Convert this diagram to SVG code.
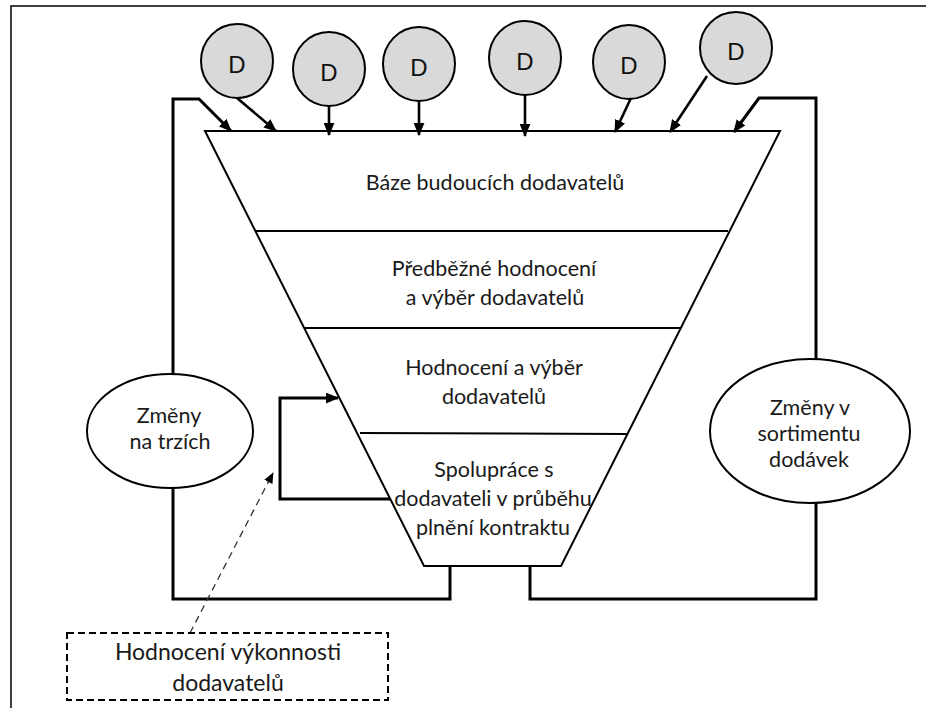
<svg xmlns="http://www.w3.org/2000/svg" width="931" height="708" viewBox="0 0 931 708">
<style>
.t{font-family:Lato,"Open Sans","DejaVu Sans",sans-serif;fill:#1a1a1a;text-anchor:middle;font-size:21.5px}
.d{font-family:"Liberation Sans Narrow","Liberation Sans",Arial,sans-serif;fill:#111;text-anchor:middle;font-size:24px}
.circ{fill:#d9d9d9;stroke:#000;stroke-width:2}
.ell{fill:#fff;stroke:#000;stroke-width:2}
.ln{fill:none;stroke:#000;stroke-width:3}
.ar{fill:none;stroke:#000;stroke-width:2.6}
.sep{stroke:#000;stroke-width:2}
</style>
<defs>
<marker id="ah" viewBox="0 0 12 10" markerWidth="13" markerHeight="11" refX="11" refY="5" orient="auto" markerUnits="userSpaceOnUse">
<path d="M0,0 L12,5 L0,10 z" fill="#000"/>
</marker>
<marker id="ahs" viewBox="0 0 12 10" markerWidth="11" markerHeight="10" refX="11" refY="5" orient="auto" markerUnits="userSpaceOnUse">
<path d="M0,0 L12,5 L0,10 z" fill="#000"/>
</marker>
</defs>
<rect width="931" height="708" fill="#fff"/>
<path d="M11,708 V6 H926" fill="none" stroke="#000" stroke-width="1.5"/>

<g id="funnel">
<polygon points="205,131 780,131 561,566 424,566" fill="#fff" stroke="#000" stroke-width="2"/>
<line class="sep" x1="256" y1="231" x2="728" y2="231"/>
<line class="sep" x1="304" y1="328" x2="680" y2="328"/>
<line class="sep" x1="360" y1="433" x2="627" y2="434"/>
</g>
<g id="level1"><text class="t" x="495" y="190">Báze budoucích dodavatelů</text></g>
<g id="level2"><text class="t" x="494" y="276">Předběžné hodnocení</text><text class="t" x="495" y="305">a výběr dodavatelů</text></g>
<g id="level3"><text class="t" x="494" y="375">Hodnocení a výběr</text><text class="t" x="494" y="404">dodavatelů</text></g>
<g id="level4"><text class="t" x="494" y="477">Spolupráce s</text><text class="t" x="493" y="506">dodavateli v průběhu</text><text class="t" x="493" y="535">plnění kontraktu</text></g>

<g id="d1"><ellipse class="circ" cx="237" cy="61" rx="36" ry="37"/><text class="d" x="237" y="73">D</text></g>
<g id="d2"><ellipse class="circ" cx="329" cy="69" rx="36" ry="37"/><text class="d" x="329" y="81">D</text></g>
<g id="d3"><ellipse class="circ" cx="419" cy="64" rx="36" ry="37"/><text class="d" x="419" y="76">D</text></g>
<g id="d4"><ellipse class="circ" cx="525" cy="58" rx="36" ry="37"/><text class="d" x="525" y="70">D</text></g>
<g id="d5"><ellipse class="circ" cx="629" cy="62" rx="36" ry="37"/><text class="d" x="629" y="74">D</text></g>
<g id="d6"><ellipse class="circ" cx="736" cy="48" rx="36" ry="36"/><text class="d" x="736" y="60">D</text></g>

<g id="connectors">
<path class="ar" d="M237,98 L276,131" marker-end="url(#ah)"/>
<path class="ar" d="M329,106 V135" marker-end="url(#ah)"/>
<path class="ar" d="M419,101 V135" marker-end="url(#ah)"/>
<path class="ar" d="M525,95 V136" marker-end="url(#ah)"/>
<path class="ar" d="M631,98 L615,132" marker-end="url(#ah)"/>
<path class="ar" d="M707,76 L670,132" marker-end="url(#ah)"/>
<path class="ln" d="M173,374 V99 H199 L231,131" marker-end="url(#ah)"/>
<path class="ln" d="M816,359 V98 H759 L734,132" marker-end="url(#ah)"/>
<path class="ln" d="M173,488 V599 H450 V566"/>
<path class="ln" d="M816,503 V599 H530 V566"/>
<path class="ln" d="M390,499 H280 V398 H338" marker-end="url(#ah)"/>
<path d="M190,633 L273,473" fill="none" stroke="#333" stroke-width="1.3" stroke-dasharray="7,5" marker-end="url(#ahs)"/>
</g>

<g id="markets"><ellipse class="ell" cx="170" cy="431" rx="83" ry="57"/><text class="t" x="169" y="423">Změny</text><text class="t" x="170" y="449">na trzích</text></g>
<g id="assortment"><ellipse class="ell" cx="810" cy="431" rx="100" ry="72"/><text class="t" x="810" y="415">Změny v</text><text class="t" x="809" y="441">sortimentu</text><text class="t" x="809" y="467">dodávek</text></g>
<g id="performance"><rect x="67" y="633" width="321" height="67" fill="#fff" stroke="#000" stroke-width="2" stroke-dasharray="7,4"/><text class="t" x="228" y="660" style="font-size:23px">Hodnocení výkonnosti</text><text class="t" x="228" y="691" style="font-size:23px">dodavatelů</text></g>
</svg>
